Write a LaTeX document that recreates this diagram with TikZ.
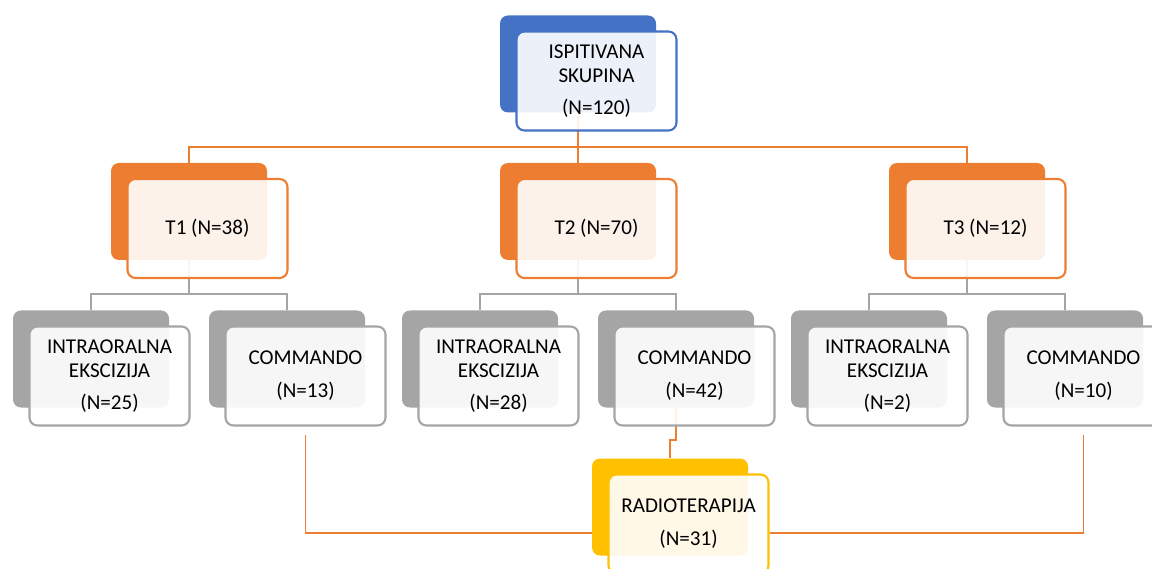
\documentclass[tikz,border=0pt]{standalone}
\usepackage{fontspec}
\setmainfont{Carlito}
\usetikzlibrary{backgrounds}

\definecolor{accblue}{HTML}{4472C4}
\definecolor{accorange}{HTML}{ED7D31}
\definecolor{accgray}{HTML}{A5A5A5}
\definecolor{accyellow}{HTML}{FFC000}

\tikzset{
  back/.style={rectangle, rounded corners=0.16cm, minimum width=3.12cm, minimum height=1.94cm, inner sep=0pt},
  front/.style={rectangle, rounded corners=0.16cm, line width=1.2pt, fill=white, fill opacity=0.9, text opacity=1,
                minimum width=3.2cm, minimum height=1.98cm, align=center, font=\fontsize{12}{13.8}\selectfont},
  link/.style={line width=0.9pt}
}

\begin{document}
\begin{tikzpicture}[level distance=2.95cm,
                    edge from parent path={(\tikzparentnode.south) -- ++(0,-0.68) -| (\tikzchildnode.north)},
                    level 1/.style={sibling distance=7.78cm, edge from parent/.style={draw=accorange, link}},
                    level 2/.style={sibling distance=3.92cm, edge from parent/.style={draw=accgray, link, line width=1.2pt}}]
  \path[use as bounding box, clip] (0,0) rectangle (23.04,-11.38);

  \node[back, fill=accblue] (top) at (11.56,-1.28) {}
    child { node[back, fill=accorange] (t1) {}
      child { node[back, fill=accgray] (t1e) {} }
      child { node[back, fill=accgray] (t1c) {} }
    }
    child { node[back, fill=accorange] (t2) {}
      child { node[back, fill=accgray] (t2e) {} }
      child { node[back, fill=accgray] (t2c) {} }
    }
    child { node[back, fill=accorange] (t3) {}
      child { node[back, fill=accgray] (t3e) {} }
      child { node[back, fill=accgray] (t3c) {} }
    }
  ;
  \node[back, fill=accyellow] (radio) at (13.40,-10.14) {};

  \node[front, draw=accblue] (topf) at ([shift={(0.37,-0.34)}]top) {ISPITIVANA\\SKUPINA\\[4pt](N=120)};
  \node[front, draw=accorange] (t1f) at ([shift={(0.37,-0.34)}]t1) {T1 (N=38)};
  \node[front, draw=accorange] (t2f) at ([shift={(0.37,-0.34)}]t2) {T2 (N=70)};
  \node[front, draw=accorange] (t3f) at ([shift={(0.37,-0.34)}]t3) {T3 (N=12)};
  \node[front, draw=accgray] (t1ef) at ([shift={(0.37,-0.34)}]t1e) {INTRAORALNA\\EKSCIZIJA\\[4pt](N=25)};
  \node[front, draw=accgray] (t1cf) at ([shift={(0.37,-0.34)}]t1c) {COMMANDO\\[5pt](N=13)};
  \node[front, draw=accgray] (t2ef) at ([shift={(0.37,-0.34)}]t2e) {INTRAORALNA\\EKSCIZIJA\\[4pt](N=28)};
  \node[front, draw=accgray] (t2cf) at ([shift={(0.37,-0.34)}]t2c) {COMMANDO\\[5pt](N=42)};
  \node[front, draw=accgray] (t3ef) at ([shift={(0.37,-0.34)}]t3e) {INTRAORALNA\\EKSCIZIJA\\[4pt](N=2)};
  \node[front, draw=accgray] (t3cf) at ([shift={(0.37,-0.34)}]t3c) {COMMANDO\\[5pt](N=10)};
  \node[front, draw=accyellow] (radiof) at ([shift={(0.37,-0.34)}]radio) {RADIOTERAPIJA\\[5pt](N=31)};

  % links to radiotherapy, kept under the boxes
  \begin{scope}[on background layer]
    \coordinate (rjoin) at ([yshift=-0.52cm]radio.west);
    \draw[link, accorange] (t2c.south) -- ++(0,-0.64) -| (radio.north);
    \draw[link, accorange] ([yshift=-0.16cm]t1cf.south) |- (rjoin);
    \draw[link, accorange] ([yshift=-0.16cm]t3cf.south) |- (rjoin -| radiof.east);
  \end{scope}
\end{tikzpicture}
\end{document}
